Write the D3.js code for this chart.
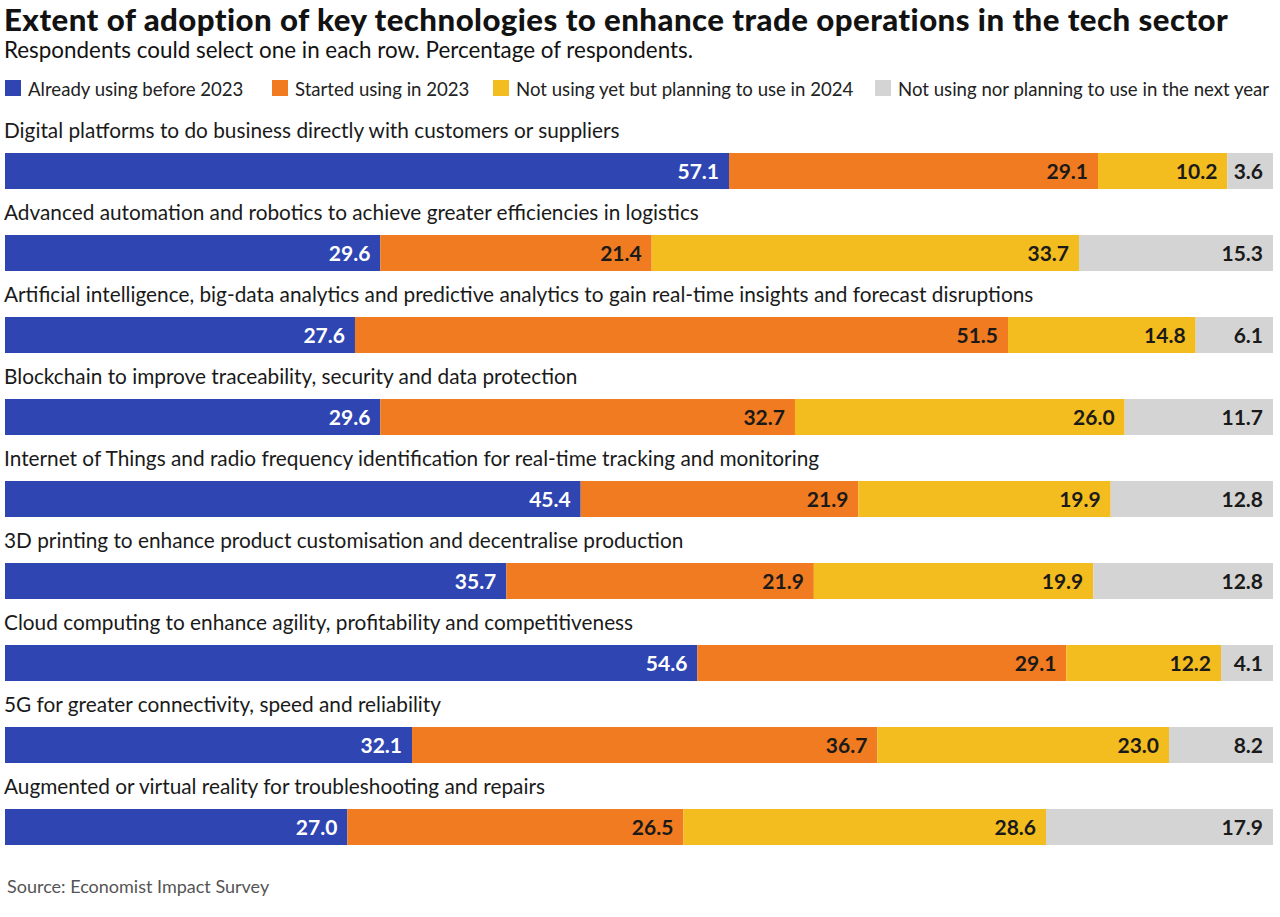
<!DOCTYPE html>
<html>
<head>
<meta charset="utf-8">
<script src="https://cdn.jsdelivr.net/npm/d3@7"></script>
<style>
  body { margin: 0; background: #fff; }
  svg text { font-family: "Lato", "DejaVu Sans", sans-serif; }
</style>
</head>
<body>
<div id="chart"></div>
<script>
const categories = [
    "Digital platforms to do business directly with customers or suppliers",
    "Advanced automation and robotics to achieve greater efficiencies in logistics",
    "Artificial intelligence, big-data analytics and predictive analytics to gain real-time insights and forecast disruptions",
    "Blockchain to improve traceability, security and data protection",
    "Internet of Things and radio frequency identification for real-time tracking and monitoring",
    "3D printing to enhance product customisation and decentralise production",
    "Cloud computing to enhance agility, profitability and competitiveness",
    "5G for greater connectivity, speed and reliability",
    "Augmented or virtual reality for troubleshooting and repairs"
];
const seriesNames = [
    "Already using before 2023",
    "Started using in 2023",
    "Not using yet but planning to use in 2024",
    "Not using nor planning to use in the next year"
];
const alreadyUsing = [57.1, 29.6, 27.6, 29.6, 45.4, 35.7, 54.6, 32.1, 27.0];
const startedUsing = [29.1, 21.4, 51.5, 32.7, 21.9, 21.9, 29.1, 36.7, 26.5];
const planning2024 = [10.2, 33.7, 14.8, 26.0, 19.9, 19.9, 12.2, 23.0, 28.6];
const notPlanning = [3.6, 15.3, 6.1, 11.7, 12.8, 12.8, 4.1, 8.2, 17.9];

const colors = ["#2e45b2", "#f07b20", "#f4bd1f", "#d4d4d4"];

const width = 1280, height = 917;

const table = categories.map((c, i) => ({
    label: c,
    s0: alreadyUsing[i], s1: startedUsing[i], s2: planning2024[i], s3: notPlanning[i]
}));
const keys = ["s0", "s1", "s2", "s3"];

// each row fills the full bar, as in the original
const stacked = d3.stack().keys(keys).offset(d3.stackOffsetExpand)(table);

const svg = d3.select("#chart").append("svg")
    .attr("width", width)
    .attr("height", height);

svg.append("text")
    .attr("x", 4).attr("y", 31)
    .attr("font-size", 31.2).attr("font-weight", "900")
    .attr("letter-spacing", 0.45)
    .attr("fill", "#121212")
    .text("Extent of adoption of key technologies to enhance trade operations in the tech sector");

svg.append("text")
    .attr("x", 4).attr("y", 58)
    .attr("font-size", 22.4)
    .attr("fill", "#121212")
    .text("Respondents could select one in each row. Percentage of respondents.");

// legend
const legendX = [5, 272, 493, 875];
const legend = svg.append("g").selectAll("g")
    .data(seriesNames)
    .join("g")
    .attr("transform", (d, i) => `translate(${legendX[i]},80)`);
legend.append("rect")
    .attr("width", 16).attr("height", 16)
    .attr("fill", (d, i) => colors[i]);
legend.append("text")
    .attr("x", 23).attr("y", 16)
    .attr("font-size", 18.6)
    .attr("fill", "#222")
    .text(d => d);

const x = d3.scaleLinear()
    .domain([0, 1])
    .range([5, 1273]);

const y = d3.scaleBand()
    .domain(d3.range(categories.length))
    .range([153, 845])
    .paddingInner(46 / 82)
    .paddingOuter(0);

svg.append("g").selectAll("text")
    .data(table)
    .join("text")
    .attr("x", 4)
    .attr("y", (d, i) => y(i) - 15)
    .attr("font-size", 20.8)
    .attr("fill", "#1a1a1a")
    .text(d => d.label);

const layer = svg.append("g").selectAll("g")
    .data(stacked)
    .join("g")
    .attr("fill", (d, k) => colors[k]);

layer.selectAll("rect")
    .data(d => d)
    .join("rect")
    .attr("x", d => x(d[0]))
    .attr("y", (d, i) => y(i))
    .attr("width", d => x(d[1]) - x(d[0]))
    .attr("height", y.bandwidth());

layer.selectAll("text")
    .data(d => d.map(p => ({ p, key: d.key, k: d.index })))
    .join("text")
    .attr("x", d => x(d.p[1]) - 10)
    .attr("y", (d, i) => y(i) + y.bandwidth() / 2 + 7.5)
    .attr("text-anchor", "end")
    .attr("font-size", 21)
    .attr("font-weight", "bold")
    .attr("fill", d => d.k === 0 ? "#fff" : "#1a1a1a")
    .text(d => d.p.data[d.key].toFixed(1));

svg.append("text")
    .attr("x", 7).attr("y", 893)
    .attr("font-size", 18)
    .attr("fill", "#555")
    .text("Source: Economist Impact Survey");
</script>
</body>
</html>
